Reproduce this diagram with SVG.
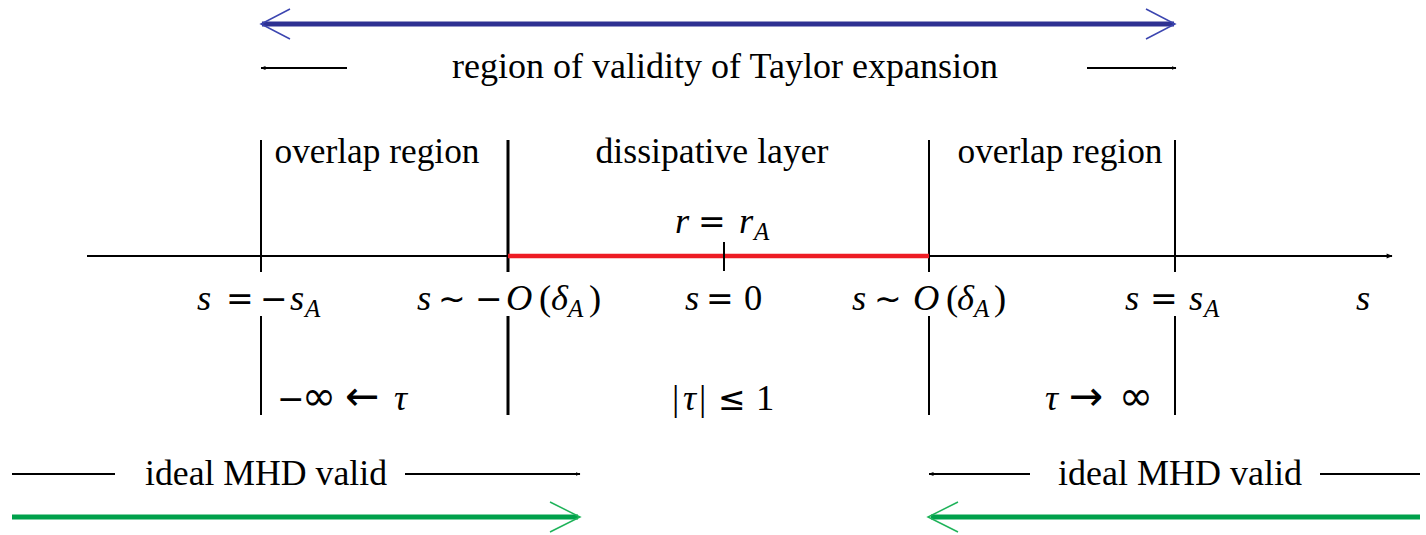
<svg xmlns="http://www.w3.org/2000/svg" width="1426" height="535" viewBox="0 0 1426 535">
<defs>
<style>
text{font-family:"Liberation Serif","Times New Roman",serif;font-size:35.5px;fill:#000}
.m{font-size:36.5px}
.i{font-style:italic}
.sub{font-size:25px;font-style:italic}
.op{font-family:"DejaVu Sans",sans-serif;font-size:33px;font-style:normal}
.big{font-family:"DejaVu Sans",sans-serif;font-size:41px;font-style:normal}
.ln{stroke:#000;stroke-width:2;fill:none}
</style>
<marker id="ah" viewBox="0 0 10 10" refX="9" refY="5" markerWidth="5" markerHeight="5" orient="auto" markerUnits="userSpaceOnUse"><path d="M0,1 L10,5 L0,9 z" fill="#000"/></marker>
<marker id="axh" viewBox="0 0 10 10" refX="9" refY="5" markerWidth="8" markerHeight="6" orient="auto" markerUnits="userSpaceOnUse"><path d="M0,1 L10,5 L0,9 z" fill="#000"/></marker>
</defs>
<rect width="1426" height="535" fill="#fff"/>

<g id="taylor">
<line x1="262" y1="24" x2="1174" y2="24" stroke="#2e3192" stroke-width="5"/>
<path d="M290,9 L261,24 L290,39 M1146,9 L1175,24 L1146,39" stroke="#3b45b0" stroke-width="1.5" fill="none"/>
<line class="ln" x1="347" y1="68" x2="261" y2="68" marker-end="url(#ah)"/>
<line class="ln" x1="1087" y1="68" x2="1176" y2="68" marker-end="url(#ah)"/>
<text x="725" y="78" text-anchor="middle" textLength="546" lengthAdjust="spacingAndGlyphs">region of validity of Taylor expansion</text>
</g>

<g id="verticals">
<path class="ln" d="M261,140 V272 M261,316 V415 M929,140 V272 M929,316 V415 M1175,140 V272 M1175,316 V415"/>
<path d="M508,140 V272 M508,316 V415" stroke="#000" stroke-width="3" fill="none"/>
</g>

<g id="axis">
<line class="ln" x1="87" y1="256" x2="1392" y2="256" marker-end="url(#axh)"/>
<line x1="508" y1="256" x2="929" y2="256" stroke="#ed1c24" stroke-width="4.5"/>
<line class="ln" x1="724" y1="242" x2="724" y2="271"/>
</g>

<g id="region-labels">
<text x="377" y="163" text-anchor="middle" textLength="205" lengthAdjust="spacingAndGlyphs">overlap region</text>
<text x="712" y="163" text-anchor="middle" textLength="233" lengthAdjust="spacingAndGlyphs">dissipative layer</text>
<text x="1060" y="163" text-anchor="middle" textLength="205" lengthAdjust="spacingAndGlyphs">overlap region</text>
</g>

<g id="rA">
<text class="m" y="233"><tspan class="i" x="675">r</tspan><tspan class="op" x="698">=</tspan><tspan class="i" x="739">r</tspan><tspan class="sub" x="754" dy="7">A</tspan></text>
</g>

<g id="s-labels">
<text class="m" y="310"><tspan class="i" x="197">s</tspan><tspan class="op" x="226">=</tspan><tspan class="op" x="260">−</tspan><tspan class="i" x="290">s</tspan><tspan class="sub" x="305" dy="7">A</tspan></text>
<text class="m" y="310"><tspan class="i" x="417">s</tspan><tspan class="op" x="438">∼</tspan><tspan class="op" x="475">−</tspan><tspan class="i" x="506">O</tspan><tspan x="539">(</tspan><tspan class="i" x="551">δ</tspan><tspan class="sub" x="568" dy="7">A</tspan><tspan x="589" dy="-7">)</tspan></text>
<text class="m" y="310"><tspan class="i" x="685">s</tspan><tspan class="op" x="706">=</tspan><tspan x="744">0</tspan></text>
<text class="m" y="310"><tspan class="i" x="852">s</tspan><tspan class="op" x="874">∼</tspan><tspan class="i" x="913">O</tspan><tspan x="946">(</tspan><tspan class="i" x="957">δ</tspan><tspan class="sub" x="974" dy="7">A</tspan><tspan x="994" dy="-7">)</tspan></text>
<text class="m" y="310"><tspan class="i" x="1125">s</tspan><tspan class="op" x="1150">=</tspan><tspan class="i" x="1189">s</tspan><tspan class="sub" x="1204" dy="7">A</tspan></text>
<text class="m i" x="1356" y="310">s</text>
</g>

<g id="tau-labels">
<text class="m" y="410"><tspan class="op" x="277">−</tspan><tspan class="big" x="302">∞</tspan><tspan class="big" x="345">←</tspan><tspan class="i" x="394">τ</tspan></text>
<text class="m" y="410"><tspan x="672">|</tspan><tspan class="i" x="683">τ</tspan><tspan x="699">|</tspan><tspan class="op" x="718">≤</tspan><tspan x="756">1</tspan></text>
<text class="m" y="410"><tspan class="i" x="1045">τ</tspan><tspan class="big" x="1069">→</tspan><tspan class="big" x="1119">∞</tspan></text>
</g>

<g id="mhd-left">
<line class="ln" x1="12" y1="474" x2="115" y2="474"/>
<line class="ln" x1="405" y1="474" x2="580" y2="474" marker-end="url(#ah)"/>
<text x="266" y="485" text-anchor="middle" textLength="242" lengthAdjust="spacingAndGlyphs">ideal MHD valid</text>
<line x1="12" y1="517" x2="578" y2="517" stroke="#00a14b" stroke-width="5"/>
<path d="M550,502 L580,517 L550,532" stroke="#1fb35a" stroke-width="1.5" fill="none"/>
</g>

<g id="mhd-right">
<line class="ln" x1="1030" y1="474" x2="929" y2="474" marker-end="url(#ah)"/>
<line class="ln" x1="1320" y1="474" x2="1420" y2="474"/>
<text x="1180" y="485" text-anchor="middle" textLength="244" lengthAdjust="spacingAndGlyphs">ideal MHD valid</text>
<line x1="931" y1="517" x2="1420" y2="517" stroke="#00a14b" stroke-width="5"/>
<path d="M958,502 L928,517 L958,532" stroke="#1fb35a" stroke-width="1.5" fill="none"/>
</g>
</svg>
